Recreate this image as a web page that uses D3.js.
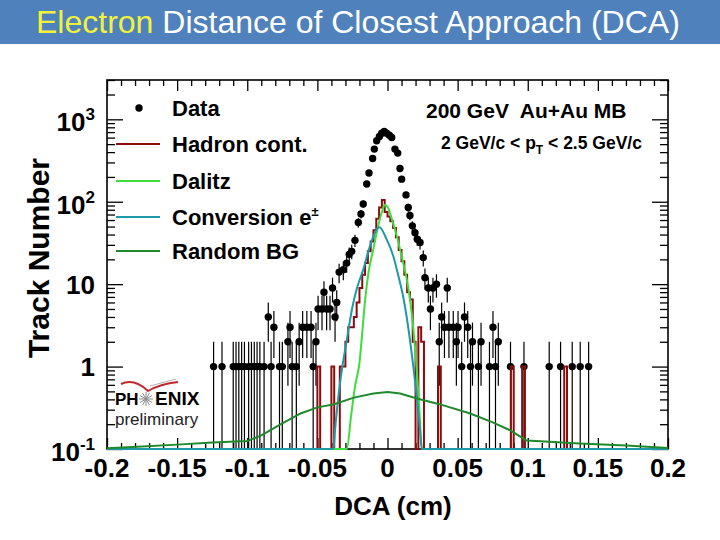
<!DOCTYPE html>
<html>
<head>
<meta charset="utf-8">
<script src="https://cdn.jsdelivr.net/npm/d3@7"></script>
<style>
  body { margin: 0; background: #fff; }
  svg { display: block; font-family: "Liberation Sans", Arial, Helvetica, sans-serif; }
</style>
</head>
<body>
<svg id="chart" width="720" height="540"></svg>
<script>
// Electron DCA

// measured electrons (bin centre in cm, counts)
const dataDca = [-0.124, -0.118, -0.110, -0.108, -0.106, -0.104, -0.102, -0.099, -0.097, -0.095,
  -0.093, -0.091, -0.088, -0.085, -0.083, -0.081, -0.077, -0.075, -0.071, -0.0695,
  -0.068, -0.065, -0.063, -0.0605, -0.0575, -0.0545, -0.053, -0.051, -0.0495, -0.0467,
  -0.0453, -0.0434, -0.041, -0.0392, -0.0374, -0.0362, -0.0345, -0.0315, -0.0291, -0.0273,
  -0.0255, -0.0232, -0.0208, -0.0189, -0.0173, -0.0148, -0.0132, -0.0106, -0.0094, -0.0077,
  -0.0058, -0.0041, -0.0023, -0.0006, 0.0013, 0.0030, 0.0053, 0.0073, 0.0089, 0.0101,
  0.0132, 0.0148, 0.0160, 0.0177, 0.0196, 0.0212, 0.0232, 0.0255, 0.0267, 0.0291,
  0.0306, 0.0324, 0.0349, 0.0369, 0.0386, 0.0406, 0.0426, 0.0438, 0.0469, 0.0491,
  0.0503, 0.0529, 0.0549, 0.0572, 0.0592, 0.0606, 0.0648, 0.0667, 0.0727, 0.0752,
  0.0770, 0.0790, 0.0877, 0.0973, 0.1153, 0.1234, 0.1317, 0.1374, 0.1434];
const dataCounts = [1, 1, 1, 1, 1, 1, 1, 1, 1, 1,
  1, 1, 1, 4, 1, 3, 1, 1, 2, 3,
  1, 1, 2, 3, 3, 3, 1, 2, 5, 5,
  8, 5, 5, 9, 4, 6, 14, 15, 18, 23,
  25, 34, 56, 71, 94, 164, 223, 335, 435, 549,
  619, 680, 711, 680, 643, 601, 435, 389, 253, 188,
  121, 85, 68, 51, 42, 35, 32, 21, 12, 9,
  5, 9, 10, 2, 4, 3, 9, 3, 3, 2,
  3, 1, 4, 3, 1, 2, 1, 2, 1, 3,
  1, 2, 1, 1, 1, 1, 1, 1, 1];

// hadron contamination histogram, 0.002 cm bins (empty bins left out)
const hadBins = [-0.049, -0.039, -0.033, -0.031, -0.029, -0.027, -0.025, -0.023, -0.021, -0.019,
  -0.017, -0.015, -0.013, -0.011, -0.009, -0.007, -0.005, -0.003, -0.001, 0.001,
  0.003, 0.005, 0.007, 0.009, 0.011, 0.013, 0.015, 0.017, 0.019, 0.023,
  0.025, 0.037, 0.089, 0.097, 0.127];
const hadCounts = [1, 1, 1, 1, 2, 3, 3, 4, 6, 9,
  13, 18, 25, 33, 45, 62, 85, 105, 75, 66,
  58, 48, 37, 26, 19, 13, 8, 6.5, 2, 3,
  2, 1, 1, 1, 1];

// Dalitz shape
const dalitzDca = [-0.2, -0.029, -0.026, -0.023, -0.020, -0.018, -0.016, -0.0135, -0.010, -0.0066,
  -0.004, -0.002, 0.0005, 0.003, 0.0066, 0.010, 0.0137, 0.016, 0.0185, 0.0207,
  0.0225, 0.0246, 0.2];
const dalitzVal = [0.1, 0.1, 0.25, 0.6, 1.1, 2.6, 6.3, 14, 27, 51,
  75, 91, 84, 62, 38.6, 22, 11.5, 6.6, 2.8, 1,
  0.35, 0.1, 0.1];

// photon conversion shape
const convDca = [-0.2, -0.0385, -0.0374, -0.0339, -0.0291, -0.0248, -0.0219, -0.0173, -0.0125, -0.0058,
  -0.0006, 0.0041, 0.0077, 0.0113, 0.0184, 0.0232, 0.0244, 0.2];
const convVal = [0.1, 0.1, 0.17, 0.62, 2.07, 5.5, 8.8, 15, 29, 49,
  35, 22, 12.7, 6.9, 1, 0.17, 0.1, 0.1];

// random background
const bgDca = [-0.2, -0.175, -0.15, -0.125, -0.1, -0.09, -0.076, -0.062, -0.05, -0.038,
  -0.024, -0.01, 0.0, 0.009, 0.021, 0.037, 0.059, 0.075, 0.087, 0.099,
  0.109, 0.137, 0.17, 0.2];
const bgVal = [0.102, 0.107, 0.113, 0.12, 0.125, 0.146, 0.2, 0.27, 0.32, 0.35,
  0.42, 0.47, 0.49, 0.47, 0.41, 0.35, 0.27, 0.21, 0.17, 0.127,
  0.124, 0.117, 0.11, 0.103];

// axis ticks
const xMajor = [-0.2, -0.15, -0.1, -0.05, 0, 0.05, 0.1, 0.15, 0.2];
const xLabels = ['-0.2', '-0.15', '-0.1', '-0.05', '0', '0.05', '0.1', '0.15', '0.2'];
const yMajor = [1000, 100, 10, 1, 0.1];
const yBase = ['10', '10', '10', '1', '10'];
const yExp = ['3', '2', '', '', '-1'];

const legendNames = ['Data', 'Hadron cont.', 'Dalitz', 'Conversion e', 'Random BG'];

// ---- layout / style ----
const box = { left: 107, right: 668, top: 80, bottom: 449 };
const col = {
  had: '#8a0d0d',
  dalitz: '#3fdc3f',
  conv: '#1f98a8',
  bg: '#1f8a2c',
  bar: '#4f81bd'
};
const yMin = 0.1, yMax = 3000;

const svg = d3.select('#chart');

const x = d3.scaleLinear().domain([-0.2, 0.2]).range([box.left, box.right]);
const y = d3.scaleLog().domain([yMin, yMax]).range([box.bottom, box.top]);
const yc = v => y(Math.min(Math.max(v, yMin), yMax));   // clamp like ROOT does

// title bar
svg.append('rect').attr('x', 0).attr('y', 0).attr('width', 720).attr('height', 44).attr('fill', col.bar);
const title = svg.append('text').attr('x', 36).attr('y', 33).attr('font-size', 32).attr('fill', '#fff');
title.append('tspan').attr('fill', '#f2f23a').text('Electron');
title.append('tspan').text(' Distance of Closest Approach (DCA)');

// frame
svg.append('rect')
  .attr('x', box.left).attr('y', box.top)
  .attr('width', box.right - box.left).attr('height', box.bottom - box.top)
  .attr('fill', 'none').attr('stroke', '#000').attr('stroke-width', 1.6);

// ---- ticks (all inward) ----
const xMinor = d3.range(-20, 21).map(i => i / 100).filter(v => !xMajor.some(m => Math.abs(m - v) < 1e-9));
const yAll = y.ticks();
const yMinor = yAll.filter(v => !yMajor.some(m => Math.abs(m - v) < 1e-12));

function tickAxis(axis, transform) {
  const g = svg.append('g').attr('transform', transform).call(axis);
  g.select('.domain').remove();
  g.selectAll('line').attr('stroke', '#000').attr('stroke-width', 1.3);
  return g;
}
tickAxis(d3.axisBottom(x).tickValues(xMinor).tickSize(-6).tickFormat(''), `translate(0,${box.bottom})`);
tickAxis(d3.axisBottom(x).tickValues(xMajor).tickSize(-11).tickFormat(''), `translate(0,${box.bottom})`);
tickAxis(d3.axisTop(x).tickValues(xMinor).tickSize(-6).tickFormat(''), `translate(0,${box.top})`);
tickAxis(d3.axisTop(x).tickValues(xMajor).tickSize(-11).tickFormat(''), `translate(0,${box.top})`);
tickAxis(d3.axisLeft(y).tickValues(yMinor).tickSize(-8).tickFormat(''), `translate(${box.left},0)`);
tickAxis(d3.axisLeft(y).tickValues(yMajor).tickSize(-16).tickFormat(''), `translate(${box.left},0)`);
tickAxis(d3.axisRight(y).tickValues(yMinor).tickSize(-8).tickFormat(''), `translate(${box.right},0)`);
tickAxis(d3.axisRight(y).tickValues(yMajor).tickSize(-16).tickFormat(''), `translate(${box.right},0)`);

// x labels
svg.append('g').selectAll('text').data(xMajor).join('text')
  .attr('x', d => x(d)).attr('y', 477)
  .attr('text-anchor', 'middle').attr('font-size', 26).attr('font-weight', 'bold')
  .text((d, i) => xLabels[i]);

// y labels with exponents
const yl = svg.append('g').selectAll('text').data(yMajor).join('text')
  .attr('x', 95).attr('y', (d, i) => y(d) + (yExp[i] ? 12 : 9.5))
  .attr('text-anchor', 'end').attr('font-size', 26).attr('font-weight', 'bold');
yl.append('tspan').text((d, i) => yBase[i]);
yl.filter((d, i) => yExp[i] !== '').append('tspan')
  .attr('dy', -11).attr('font-size', 17)
  .text(d => yExp[yMajor.indexOf(d)]);

// axis titles
svg.append('text').attr('x', 393).attr('y', 515)
  .attr('text-anchor', 'middle').attr('font-size', 26).attr('font-weight', 'bold')
  .text('DCA (cm)');
svg.append('text').attr('transform', 'translate(49,258) rotate(-90)')
  .attr('text-anchor', 'middle').attr('font-size', 30).attr('font-weight', 'bold')
  .text('Track Number');

// ---- data points with error bars ----
const pts = dataDca.map((d, i) => ({ x: d, n: dataCounts[i] }));
const gData = svg.append('g');
gData.selectAll('line').data(pts).join('line')
  .attr('x1', d => x(d.x)).attr('x2', d => x(d.x))
  .attr('y1', d => yc(d.n + Math.sqrt(d.n))).attr('y2', d => yc(d.n - Math.sqrt(d.n)))
  .attr('stroke', '#000').attr('stroke-width', 1.2);
gData.selectAll('circle').data(pts).join('circle')
  .attr('cx', d => x(d.x)).attr('cy', d => yc(d.n)).attr('r', 3.7).attr('fill', '#000');

// ---- hadron histogram (step line, empty bins sit on the floor) ----
const binW = 0.002, nBins = 200;
const hadFull = new Array(nBins).fill(0);
hadBins.forEach((c, j) => { hadFull[Math.round((c + 0.2 - binW / 2) / binW)] = hadCounts[j]; });
const hadSteps = hadFull.map((v, i) => [-0.2 + i * binW, v]);
hadSteps.push([0.2, hadFull[nBins - 1]]);
svg.append('path').datum(hadSteps)
  .attr('d', d3.line().x(d => x(d[0])).y(d => yc(d[1])).curve(d3.curveStepAfter))
  .attr('fill', 'none').attr('stroke', col.had).attr('stroke-width', 2);

// ---- smooth components ----
function curve(xs, vs, color, c) {
  svg.append('path').datum(xs.map((d, i) => [d, vs[i]]))
    .attr('d', d3.line().x(d => x(d[0])).y(d => yc(d[1])).curve(c))
    .attr('fill', 'none').attr('stroke', color).attr('stroke-width', 2);
}
curve(dalitzDca, dalitzVal, col.dalitz, d3.curveMonotoneX);
curve(convDca, convVal, col.conv, d3.curveMonotoneX);
curve(bgDca, bgVal, col.bg, d3.curveLinear);

// ---- legend ----
const legY = [108, 144, 181, 217, 251];
const leg = svg.append('g');
leg.append('circle').attr('cx', 139).attr('cy', legY[0]).attr('r', 3.7).attr('fill', '#000');
[col.had, col.dalitz, col.conv, col.bg].forEach((c, i) => {
  leg.append('line').attr('x1', 116).attr('x2', 160)
    .attr('y1', legY[i + 1]).attr('y2', legY[i + 1])
    .attr('stroke', c).attr('stroke-width', 2);
});
const legText = leg.selectAll('text').data(legendNames).join('text')
  .attr('x', 172).attr('y', (d, i) => legY[i] + 8)
  .attr('font-size', 22).attr('font-weight', 'bold')
  .text(d => d);
legText.filter(d => d === 'Conversion e').append('tspan')
  .attr('dy', -9).attr('font-size', 13).text('\u00b1');

// ---- run info ----
svg.append('text').attr('x', 426).attr('y', 118)
  .attr('font-size', 21).attr('font-weight', 'bold')
  .style('white-space', 'pre')
  .text('200 GeV  Au+Au MB');
const pt = svg.append('text').attr('x', 441).attr('y', 149)
  .attr('font-size', 17.5).attr('font-weight', 'bold');
pt.append('tspan').text('2 GeV/c < p');
pt.append('tspan').attr('dy', 5).attr('font-size', 12).text('T');
pt.append('tspan').attr('dy', -5).text(' < 2.5 GeV/c');

// ---- PHENIX preliminary logo ----
const logo = svg.append('g');
logo.append('path')
  .attr('d', 'M121,384 Q134,378 148,391 Q160,384 178,382')
  .attr('fill', 'none').attr('stroke', '#c0282d').attr('stroke-width', 2);
logo.append('path')
  .attr('d', 'M150,386 L176,379')
  .attr('fill', 'none').attr('stroke', '#999').attr('stroke-width', 0.8);
logo.append('text').attr('x', 115).attr('y', 405)
  .attr('font-size', 17).attr('font-weight', 'bold').text('PH');
logo.append('text').attr('x', 155).attr('y', 405)
  .attr('font-size', 19).attr('font-weight', 'bold').text('ENIX');
// starburst standing in for the O
const star = logo.append('g').attr('transform', 'translate(146,399)');
d3.range(12).forEach(k => {
  const a = k * Math.PI / 6;
  star.append('line')
    .attr('x1', 0).attr('y1', 0)
    .attr('x2', 7 * Math.cos(a)).attr('y2', 7 * Math.sin(a))
    .attr('stroke', '#8a8a8a').attr('stroke-width', 1);
});
logo.append('text').attr('x', 115).attr('y', 425)
  .attr('font-size', 17).attr('fill', '#222').text('preliminary');
</script>
</body>
</html>
